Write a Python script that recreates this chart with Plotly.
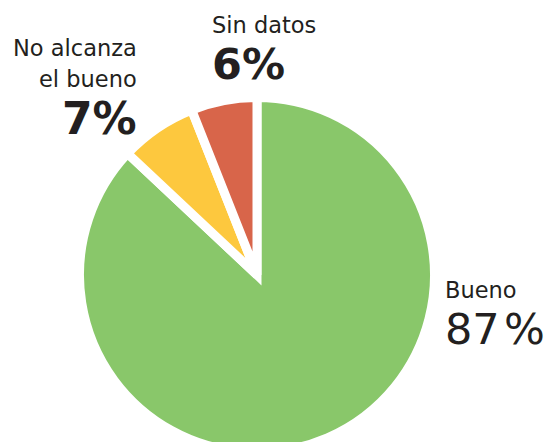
import plotly.graph_objects as go

# Data
categories = ["Bueno", "No alcanza el bueno", "Sin datos"]
values = [87, 7, 6]
colors = ["#89C76A", "#FDC83E", "#D8654A"]
label_lines = [["Bueno"], ["No alcanza", "el bueno"], ["Sin datos"]]
pct_labels = ["87%", "7%", "6%"]

W, H = 554, 460
cx, cy, R = 257, 275, 177.5
ASC = 0.928  # DejaVu Sans ascent (em)
LS = 22.5    # label font size


def px(x):
    return x / W


def py(y):
    return 1 - y / H


def lab(t, size=LS):
    return f"<span style='font-size:{size}px'>{t}</span>"


def pct_bold(t, size):
    return f"<span style='font-size:{size}px'><b>{t}</b></span>"


def pct_reg(t, size):
    return (f"<span style='font-size:{size}px'>"
            f"{t.replace('%', chr(0x200A) + '%')}</span>")


fig = go.Figure()
fig.add_trace(go.Pie(
    labels=categories,
    values=values,
    sort=False,
    direction="clockwise",
    rotation=0,
    marker=dict(colors=colors, line=dict(color="white", width=9)),
    textinfo="none",
    hoverinfo="label+percent",
    showlegend=False,
    domain=dict(x=[px(cx - R), px(cx + R)], y=[py(cy + R), py(cy - R)]),
))

ink = "#231F20"

# (text, x, top y, x-anchor, base size giving line spacing)
groups = [
    (lab(label_lines[2][0]) + "<br>" + pct_bold(pct_labels[2], 43),
     211, 32 - ASC * LS, "left", 46 / 1.3),
    (lab(label_lines[1][0]), 138, 55 - ASC * LS, "right", LS),
    (lab(label_lines[1][1]) + "<br>" + pct_bold(pct_labels[1], 44),
     138, 86 - ASC * LS, "right", 47 / 1.3),
    (lab(label_lines[0][0]) + "<br>" + pct_reg(pct_labels[0], 43),
     444, 297 - ASC * LS, "left", 46 / 1.3),
]
for t, x, y, anc, base in groups:
    fig.add_annotation(text=t, x=px(x), y=py(y), xref="paper", yref="paper",
                       xanchor=anc, yanchor="top", align=anc, borderpad=0,
                       showarrow=False,
                       font=dict(family="DejaVu Sans", size=base, color=ink))

fig.update_layout(
    width=W, height=H,
    margin=dict(l=0, r=0, t=0, b=0),
    paper_bgcolor="white", plot_bgcolor="white",
)

post = (
    "document.body.style.margin='0';"
    "document.body.style.overflow='hidden';"
    "document.documentElement.style.overflow='hidden';"
    "document.querySelectorAll('path.surface').forEach(function(p){"
    "p.setAttribute('stroke-linejoin','miter');p.style.strokeLinejoin='miter';});"
)
fig.write_html("out.html", config={"displayModeBar": False}, post_script=post)
